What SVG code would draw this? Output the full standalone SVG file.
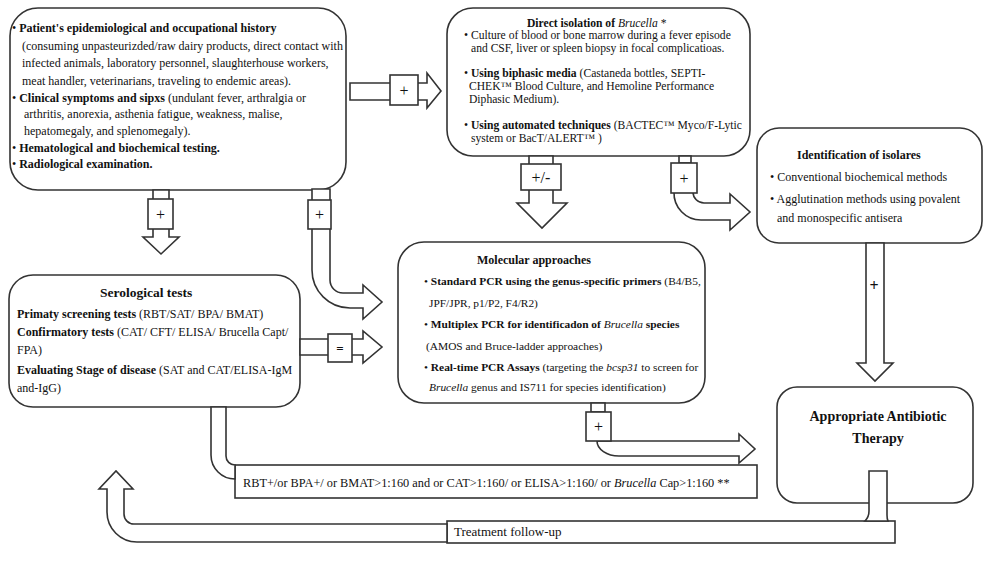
<svg xmlns="http://www.w3.org/2000/svg" width="1000" height="564" viewBox="0 0 1000 564">
<style>
.box{fill:#fff;stroke:#333;stroke-width:1.6}
.t{font-family:"Liberation Serif","Times New Roman",serif;font-size:12px;fill:#111}
.s{font-size:11.6px}
.b{font-weight:bold}
.i{font-style:italic}
.conn{fill:#fff;stroke:#333;stroke-width:1.6;stroke-linejoin:miter}
.lbl{font-family:"Liberation Serif","Times New Roman",serif;font-size:16px;fill:#111;text-anchor:middle}
</style>
<rect width="1000" height="564" fill="#fff"/>

<g id="n-history">
<rect class="box" x="10" y="8" width="336" height="182" rx="28"/>
<text class="t" x="12" y="32">• <tspan class="b">Patient's epidemiological and occupational history</tspan></text>
<text class="t" x="22" y="50">(consuming unpasteurizded/raw dairy products, direct contact with</text>
<text class="t" x="22" y="67">infected animals, laboratory personnel, slaughterhouse workers,</text>
<text class="t" x="22" y="85">meat handler, veterinarians, traveling to endemic areas).</text>
<text class="t" x="12" y="102">• <tspan class="b">Clinical symptoms and sipxs</tspan> (undulant fever, arthralgia or</text>
<text class="t" x="24" y="118">arthritis, anorexia, asthenia fatigue, weakness, malise,</text>
<text class="t" x="24" y="135">hepatomegaly, and splenomegaly).</text>
<text class="t" x="12" y="152">• <tspan class="b">Hematological and biochemical testing.</tspan></text>
<text class="t" x="12" y="168">• <tspan class="b">Radiological examination.</tspan></text>
</g>

<g id="n-isolation">
<rect class="box" x="447" y="8" width="303" height="148" rx="26"/>
<text class="t s" x="527" y="27"><tspan class="b">Direct isolation of </tspan><tspan class="i">Brucella</tspan> *</text>
<text class="t s" x="464" y="39">• Culture of blood or bone marrow during a fever episode</text>
<text class="t s" x="471" y="52">and CSF, liver or spleen biopsy in focal complicatioas.</text>
<text class="t s" x="464" y="77">• <tspan class="b">Using biphasic media</tspan> (Castaneda bottles, SEPTI-</text>
<text class="t s" x="469" y="90">CHEK™ Blood Culture, and Hemoline Performance</text>
<text class="t s" x="469" y="103">Diphasic Medium).</text>
<text class="t s" x="464" y="129">• <tspan class="b">Using automated techniques</tspan> (BACTEC™ Myco/F-Lytic</text>
<text class="t s" x="471" y="142">system or BacT/ALERT™ )</text>
</g>

<g id="n-identification">
<rect class="box" x="757" y="128" width="225" height="115" rx="22"/>
<text class="t b" x="797" y="159">Identification of isolares</text>
<text class="t" x="770" y="181">• Conventional biochemical methods</text>
<text class="t" x="770" y="203">• Agglutination methods using povalent</text>
<text class="t" x="777" y="222">and monospecific antisera</text>
</g>

<g id="n-serology">
<rect class="box" x="9" y="275" width="291" height="132" rx="24"/>
<text class="t b" x="100" y="297" style="font-size:13.5px">Serological tests</text>
<text class="t" x="17" y="318"><tspan class="b">Primaty screening tests</tspan> (RBT/SAT/ BPA/ BMAT)</text>
<text class="t" x="17" y="336"><tspan class="b">Confirmatory tests</tspan> (CAT/ CFT/ ELISA/ Brucella Capt/</text>
<text class="t" x="17" y="354">FPA)</text>
<text class="t" x="17" y="374"><tspan class="b">Evaluating Stage of disease</tspan> (SAT and CAT/ELISA-IgM</text>
<text class="t" x="17" y="392">and-IgG)</text>
</g>

<g id="n-molecular">
<rect class="box" x="398" y="242" width="307" height="161" rx="26"/>
<text class="t b" x="477" y="264">Molecular approaches</text>
<text class="t s" x="424" y="285" style="font-size:11.4px">• <tspan class="b">Standard PCR using the genus-specific primers</tspan> (B4/B5,</text>
<text class="t s" x="429" y="307" style="font-size:11.4px">JPF/JPR, p1/P2, F4/R2)</text>
<text class="t s" x="424" y="328" style="font-size:11.4px">• <tspan class="b">Multiplex PCR for identificadon of </tspan><tspan class="i">Brucella</tspan><tspan class="b"> species</tspan></text>
<text class="t s" x="426" y="350" style="font-size:11.4px">(AMOS and Bruce-ladder approaches)</text>
<text class="t s" x="424" y="371" style="font-size:11.4px">• <tspan class="b">Real-time PCR  Assays</tspan> (targeting the <tspan class="i">bcsp31</tspan> to screen for</text>
<text class="t s" x="429" y="391" style="font-size:11.4px"><tspan class="i">Brucella</tspan> genus and IS711 for species identification)</text>
</g>

<g id="n-antibiotic">
<rect class="box" x="777" y="387" width="196" height="116" rx="20"/>
<text class="t b" x="878" y="421" style="font-size:14px" text-anchor="middle">Appropriate Antibiotic</text>
<text class="t b" x="878" y="443" style="font-size:14px" text-anchor="middle">Therapy</text>
</g>

<g id="n-criteria">
<rect class="box" x="235" y="465" width="522" height="33"/>
<text class="t" x="243" y="487" style="font-size:12.3px">RBT+/or BPA+/ or BMAT&gt;1:160 and or CAT&gt;1:160/ or ELISA&gt;1:160/ or <tspan class="i">Brucella</tspan> Cap&gt;1:160 **</text>
</g>

<g id="n-followup">
<rect class="box" x="447" y="521" width="448" height="22"/>
<text class="t" x="454" y="536" style="font-size:13px">Treatment follow-up</text>
</g>

<g id="connectors">
<path class="conn" d="M350,83 H427 V73 L441,91 L427,108 V100 H350 Z"/>
<rect class="conn" x="390" y="75" width="28" height="30"/>
<text class="lbl" x="404" y="96">+</text>
<path class="conn" d="M153,190 V237 H143 L161,254 L179,237 H169 V190 Z"/>
<rect class="conn" x="148" y="199" width="25" height="30"/>
<text class="lbl" x="160.5" y="220">+</text>
<path class="conn" d="M312,189 V270 A38,38 0 0 0 350,308 H363 V319 L382,302 L363,285 V293 H343 A13,13 0 0 1 330,280 V189 Z"/>
<rect class="conn" x="308" y="200" width="23" height="29"/>
<text class="lbl" x="319.5" y="220">+</text>
<path class="conn" d="M300,339 H363 V331 L382,347 L363,363 V355 H300 Z"/>
<rect class="conn" x="328" y="334" width="24" height="28"/>
<text class="lbl b" x="340" y="353" style="font-size:13px">=</text>
<path class="conn" d="M529,156 V203 H517 L542,228 L567,203 H553 V156 Z"/>
<rect class="conn" x="521" y="164" width="40" height="26"/>
<text class="lbl" x="541" y="183">+/-</text>
<rect class="conn" x="679" y="156" width="12" height="7"/>
<path class="conn" d="M674,192 A27,27 0 0 0 701,220 H730 V230 L750,212 L730,194 V203 H704 A11,11 0 0 1 693,192 Z"/>
<rect class="conn" x="671" y="163" width="26" height="30"/>
<text class="lbl" x="684" y="184">+</text>
<path class="conn" d="M866,243 V363 H857 L875,381 L893,363 H884 V243 Z"/>
<text class="lbl b" x="874" y="291">+</text>
<rect class="conn" x="591" y="403" width="14" height="9"/>
<path class="conn" d="M597,441 A22,15 0 0 0 619,456 H739 V463 L755,449 L739,434 V441 H611 Z"/>
<rect class="conn" x="586" y="412" width="25" height="29"/>
<text class="lbl" x="598.5" y="432">+</text>
<path class="conn" d="M211,407 V455 A24,24 0 0 0 235,479 V465 A9,9 0 0 1 226,456 V407 Z"/>
<path class="conn" d="M869,471 H887 V515 Q887,519 888,521 H865 Q869,517 869,511 Z"/>
<path class="conn" d="M447,524 H134 A10,10 0 0 1 124,514 V489 H133 L116,471 L99,489 H107 V512 A30,30 0 0 0 137,542 H447 Z"/>
</g>
</svg>
